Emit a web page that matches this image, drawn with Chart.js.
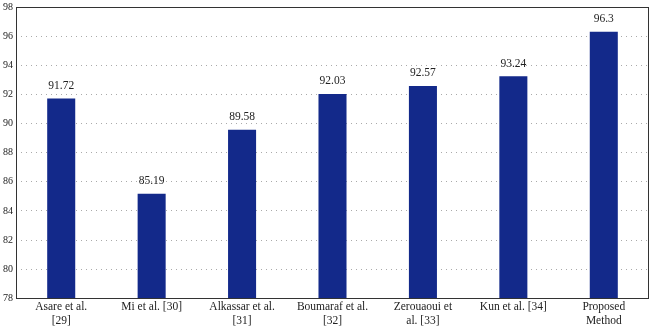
<!DOCTYPE html>
<html>
<head>
<meta charset="utf-8">
<script src="https://cdn.jsdelivr.net/npm/chart.js@4"></script>
<style>
  html, body { margin: 0; padding: 0; background: #fff; }
  #wrap { width: 650px; height: 330px; }
</style>
</head>
<body>
<div id="wrap"><canvas id="accChart"></canvas></div>
<script>
const methods = [
    ['Asare et al.', '[29]'],
    'Mi et al. [30]',
    ['Alkassar et al.', '[31]'],
    ['Boumaraf et al.', '[32]'],
    ['Zerouaoui et', 'al. [33]'],
    'Kun et al. [34]',
    ['Proposed', 'Method']
];
const accuracy = [91.72, 85.19, 89.58, 92.03, 92.57, 93.24, 96.3];
const yTicks = [78, 80, 82, 84, 86, 88, 90, 92, 94, 96, 98];

const serif = '"Liberation Serif", "DejaVu Serif", serif';

// value labels above bars + frame around plot area
const barLabels = {
    id: 'barLabels',
    afterDatasetsDraw(chart) {
        const ctx = chart.ctx;
        const meta = chart.getDatasetMeta(0);
        ctx.save();
        ctx.font = '11.5px ' + serif;
        ctx.fillStyle = '#222';
        ctx.textAlign = 'center';
        ctx.textBaseline = 'bottom';
        meta.data.forEach((bar, i) => {
            ctx.fillText(String(accuracy[i]), bar.x, bar.y - 7);
        });
        const a = chart.chartArea;
        ctx.strokeStyle = '#333';
        ctx.lineWidth = 1;
        ctx.strokeRect(Math.round(a.left) + 0.5, Math.round(a.top) + 0.5,
            Math.round(a.right - a.left) - 1, Math.round(a.bottom - a.top));
        ctx.restore();
    }
};

new Chart(document.getElementById('accChart').getContext('2d'), {
    type: 'bar',
    data: {
        labels: methods,
        datasets: [{
            data: accuracy,
            backgroundColor: '#13298a',
            barPercentage: 0.31,
            categoryPercentage: 1.0
        }]
    },
    options: {
        responsive: true,
        maintainAspectRatio: false,
        animation: false,
        layout: { padding: { top: 0, right: 1, left: 0, bottom: 0 } },
        plugins: {
            legend: { display: false },
            tooltip: { enabled: false }
        },
        scales: {
            x: {
                grid: { display: false, drawTicks: false },
                border: { display: false },
                ticks: {
                    color: '#222',
                    font: { family: serif, size: 11.5, lineHeight: 1.2 },
                    maxRotation: 0,
                    autoSkip: false,
                    padding: 2
                }
            },
            y: {
                min: 78,
                max: 98,
                afterBuildTicks(axis) {
                    axis.ticks = yTicks.map(v => ({ value: v }));
                },
                grid: {
                    color: '#aaa',
                    tickLength: 0,
                    drawTicks: false
                },
                border: { display: false, dash: [1, 4] },
                ticks: {
                    color: '#222',
                    font: { family: serif, size: 10, lineHeight: 0.8 },
                    padding: 3
                }
            }
        }
    },
    plugins: [barLabels]
});
</script>
</body>
</html>
